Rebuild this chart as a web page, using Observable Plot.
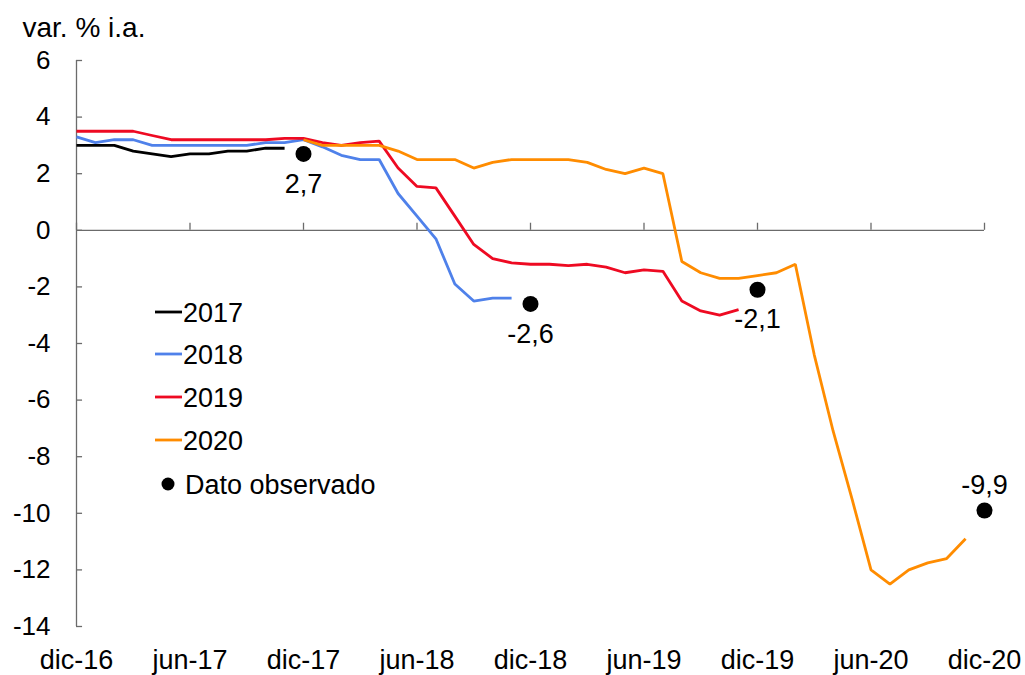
<!DOCTYPE html>
<html>
<head>
<meta charset="utf-8">
<script src="https://cdn.jsdelivr.net/npm/d3@7"></script>
<script src="https://cdn.jsdelivr.net/npm/@observablehq/plot@0.6"></script>
<style>
  html, body { margin: 0; padding: 0; background: #fff; }
  #chart { position: relative; width: 1025px; height: 675px; }
</style>
</head>
<body>
<div id="chart"></div>
<script>
// ---- Data ----
const months = [
  "dic-16",
  "ene-17","feb-17","mar-17","abr-17","may-17","jun-17","jul-17","ago-17","sep-17","oct-17","nov-17","dic-17",
  "ene-18","feb-18","mar-18","abr-18","may-18","jun-18","jul-18","ago-18","sep-18","oct-18","nov-18","dic-18",
  "ene-19","feb-19","mar-19","abr-19","may-19","jun-19","jul-19","ago-19","sep-19","oct-19","nov-19","dic-19",
  "ene-20","feb-20","mar-20","abr-20","may-20","jun-20","jul-20","ago-20","sep-20","oct-20","nov-20","dic-20"
];
const tickLabels = ["dic-16","jun-17","dic-17","jun-18","dic-18","jun-19","dic-19","jun-20","dic-20"];
const yTicks = [6, 4, 2, 0, -2, -4, -6, -8, -10, -12, -14];

const seriesNames = ["2017", "2018", "2019", "2020"];
const seriesColors = ["#000000", "#4F81EA", "#EE0A22", "#FF8C00"];
const seriesStart = ["dic-16", "dic-16", "dic-16", "dic-17"];

const values2017 = [3.0, 3.0, 3.0, 2.8, 2.7, 2.6, 2.7, 2.7, 2.8, 2.8, 2.9, 2.9];
const values2018 = [3.3, 3.1, 3.2, 3.2, 3.0, 3.0, 3.0, 3.0, 3.0, 3.0, 3.1, 3.1,
                    3.2, 2.95, 2.65, 2.5, 2.5, 1.3, 0.5, -0.3, -1.9, -2.5, -2.4, -2.4];
const values2019 = [3.5, 3.5, 3.5, 3.5, 3.35, 3.2, 3.2, 3.2, 3.2, 3.2, 3.2, 3.25,
                    3.25, 3.1, 3.0, 3.1, 3.15, 2.2, 1.55, 1.5, 0.5, -0.5, -1.0, -1.15,
                    -1.2, -1.2, -1.25, -1.2, -1.3, -1.5, -1.4, -1.45, -2.5, -2.85, -3.0, -2.8];
const values2020 = [3.2, 3.0, 3.0, 3.0, 3.0, 2.8, 2.5, 2.5, 2.5, 2.2, 2.4, 2.5,
                    2.5, 2.5, 2.5, 2.4, 2.15, 2.0, 2.2, 2.0, -1.1, -1.5, -1.7, -1.7,
                    -1.6, -1.5, -1.2, -4.4, -7.1, -9.5, -12.0, -12.5, -12.0, -11.75, -11.6, -10.9];
const seriesValues = [values2017, values2018, values2019, values2020];

const observedMonths = ["dic-17", "dic-18", "dic-19", "dic-20"];
const observedValues = [2.7, -2.6, -2.1, -9.9];
const observedLabels = ["2,7", "-2,6", "-2,1", "-9,9"];

const legendLabels = ["2017", "2018", "2019", "2020", "Dato observado"];
const yTitle = "var. % i.a.";

// ---- Build tables ----
const lineData = [];
seriesNames.forEach((name, s) => {
  const start = months.indexOf(seriesStart[s]);
  seriesValues[s].forEach((v, i) => lineData.push({series: name, m: start + i, v}));
});
const observed = observedMonths.map((mo, i) => ({m: months.indexOf(mo), v: observedValues[i], label: observedLabels[i]}));
const tickIdx = tickLabels.map(t => months.indexOf(t));

const axisColor = "#6b6b6b";
const font = "Liberation Sans, Arial, sans-serif";
const fs = 27;

const chart = Plot.plot({
  width: 1025,
  height: 675,
  marginLeft: 76,
  marginRight: 41,
  marginTop: 60,
  marginBottom: 49,
  style: {fontFamily: font, fontSize: fs + "px", color: "#000", background: "#fff", overflow: "visible"},
  x: {domain: [0, months.length - 1], axis: null, label: null},
  y: {domain: [-14, 6], axis: null, label: null},
  color: {domain: seriesNames, range: seriesColors},
  marks: [
    Plot.axisY({ticks: yTicks, tickSize: 0, tickPadding: 26, fontSize: 26, tickFormat: d => `${d}`, fill: "#000", label: null}),
    Plot.ruleY(yTicks, {x1: 0, x2: 0.32, stroke: axisColor, strokeWidth: 1.3}),
    Plot.ruleX([0], {y1: -14, y2: 6, stroke: axisColor, strokeWidth: 1.3}),
    Plot.ruleY([0], {x1: 0, x2: months.length - 1, stroke: axisColor, strokeWidth: 1.3}),
    Plot.ruleX(tickIdx, {y1: 0, y2: 0.25, stroke: axisColor, strokeWidth: 1.3}),
    Plot.axisX({ticks: tickIdx, tickFormat: i => months[i], tickSize: 0, tickPadding: 23, fontSize: fs, fill: "#000", label: null}),
    Plot.line(lineData, {x: "m", y: "v", z: "series", stroke: "series", strokeWidth: 2.8, strokeLinejoin: "miter", strokeLinecap: "butt"}),
    Plot.dot(observed, {x: "m", y: "v", r: 8, fill: "#000", stroke: "none"}),
    Plot.text(observed.filter(d => d.v > -5), {x: "m", y: "v", text: "label", dy: 30, fontSize: fs, fill: "#000"}),
    Plot.text(observed.filter(d => d.v <= -5), {x: "m", y: "v", text: "label", dy: -25, fontSize: fs, fill: "#000"}),
    Plot.text([yTitle], {frameAnchor: "top-left", textAnchor: "start", lineAnchor: "top", dx: -54, dy: -43, fontSize: 28, fill: "#000"})
  ]
});

document.getElementById("chart").appendChild(chart);

// ---- Legend (inside plot area) ----
const svg = d3.select(chart);
const lg = svg.append("g").attr("font-family", font).attr("font-size", fs).attr("text-anchor", "start");
const rowY = [312, 354, 397, 440, 484];
legendLabels.forEach((lab, i) => {
  const cy = rowY[i];
  if (i < seriesNames.length) {
    lg.append("line").attr("x1", 155).attr("x2", 182).attr("y1", cy).attr("y2", cy)
      .attr("stroke", seriesColors[i]).attr("stroke-width", 2.8);
    lg.append("text").attr("x", 183).attr("y", cy + 10).attr("text-anchor", "start").text(lab);
  } else {
    lg.append("circle").attr("cx", 168).attr("cy", cy).attr("r", 6.5).attr("fill", "#000");
    lg.append("text").attr("x", 185).attr("y", cy + 10).attr("text-anchor", "start").text(lab);
  }
});
</script>
</body>
</html>
